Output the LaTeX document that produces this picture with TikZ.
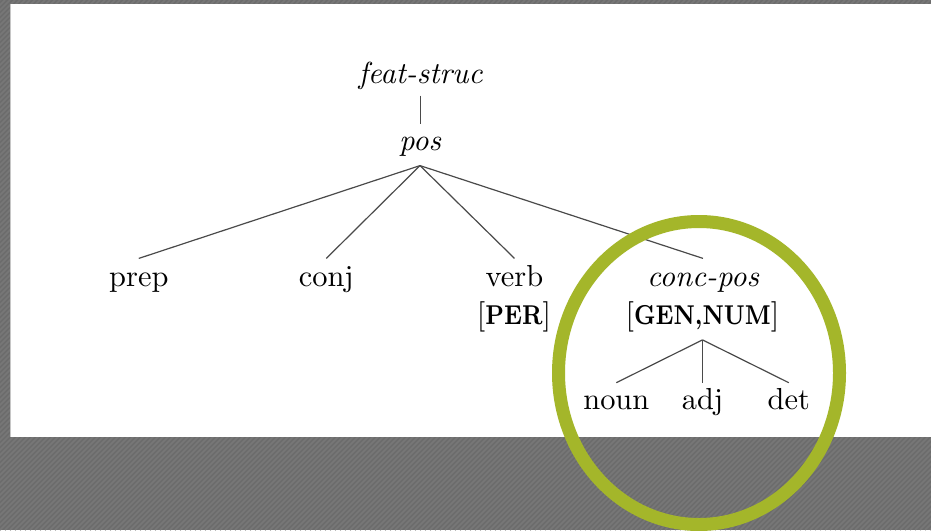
\documentclass[tikz,border=0pt]{standalone}
\usetikzlibrary{calc}
\definecolor{bgdark}{HTML}{6C6C6C}
\definecolor{bglight}{HTML}{777777}
\definecolor{olive}{HTML}{A4B62A}
\definecolor{edgegray}{HTML}{4A4A4A}
\newcommand\avmfeat[1]{[\scalebox{0.92}[1.12]{\fontsize{8}{10}\selectfont\bfseries #1}]}
\begin{document}
\begin{tikzpicture}[x=1pt,y=-1pt,
  word/.style={scale=3.04, inner xsep=0pt, text height=6.94pt, text depth=1.94pt, anchor=base},
  featnode/.style={scale=3.04, inner xsep=0pt, text height=7.5pt, text depth=2.5pt, anchor=base},
  branch/.style={draw=edgegray, line width=1.2pt}]
\useasboundingbox (0,0) rectangle (931,530);
\clip (0,0) rectangle (931,530);
% background
\fill[bgdark] (0,0) rectangle (931,530);
\foreach \i in {-530,-525,...,935} \draw[bglight, line width=1.6pt] (\i,530) -- (\i+530,0);
\fill[white] (10,4) rectangle (931,437);
\draw[gray!45, line width=1pt] (10.5,4) -- (10.5,437);
% nodes
\node[word, inner ysep=2.0pt, font=\itshape] (fs) at (420.5,83) {feat-struc};
\node[word, inner ysep=1.51pt, font=\itshape] (pos) at (420,150.7) {pos};
\node[word, inner ysep=2.1pt] (prep) at (138.8,286.5) {prep};
\node[word, inner ysep=2.1pt] (conj) at (326.3,286.5) {conj};
\node[word, inner ysep=2.1pt] (verb) at (514.5,286.5) {verb};
\node[word, inner ysep=2.1pt, font=\itshape] (cp) at (703,286.5) {conc-pos};
\node[featnode, inner ysep=0pt] (per) at (514,324) {\avmfeat{PER}};
\node[featnode, inner ysep=2.53pt] (gn) at (702.5,324) {\avmfeat{GEN,NUM}};
\node[word, inner ysep=1.61pt] (noun) at (616.3,409.3) {noun};
\node[word, inner ysep=1.61pt] (adj) at (702.5,409.3) {adj};
\node[word, inner ysep=1.61pt] (det) at (788.8,409.3) {det};
% connectors
\coordinate (posfork) at ($(pos.south)+(0,3.8)$);
\draw[branch] (fs.south) -- (fs.south |- pos.north);
\foreach \n in {prep,conj,verb,cp} \draw[branch] (posfork) -- (\n.north);
\foreach \n in {noun,adj,det} \draw[branch] (gn.south) -- (\n.north);
% highlight ring
\draw[olive, line width=13pt] (699,373) ellipse [x radius=140.5pt, y radius=151.5pt];
\end{tikzpicture}
\end{document}
